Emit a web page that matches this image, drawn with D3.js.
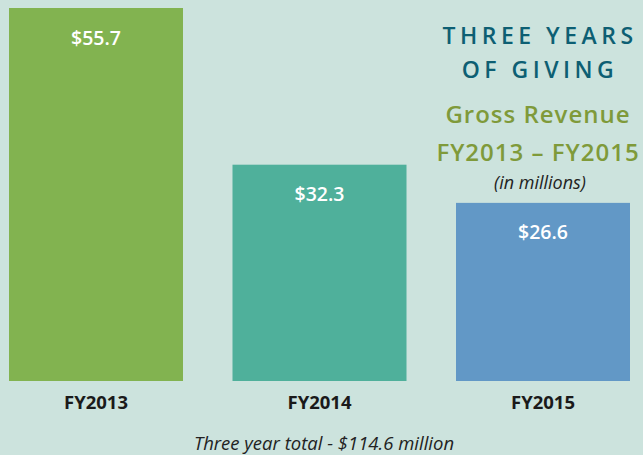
<!DOCTYPE html>
<html><head><meta charset="utf-8">
<script src="https://cdn.jsdelivr.net/npm/d3@7"></script>
<style>html,body{margin:0;padding:0;background:#cce3dd;} svg{display:block;}</style>
</head><body>
<script>
const categories = ["FY2013", "FY2014", "FY2015"];
const values = [55.7, 32.3, 26.6];
const valueLabels = ["$55.7", "$32.3", "$26.6"];
const colors = ["#82b350", "#4fb09b", "#6298c6"];
const titleLines = ["THREE YEARS", "OF GIVING"];
const subtitleLines = ["Gross Revenue", "FY2013 \u2013 FY2015"];
const unitNote = "(in millions)";
const footer = "Three year total - $114.6 million";

const W = 643, H = 455;
const F = "'Open Sans', sans-serif";
const svg = d3.select("body").append("svg").attr("width", W).attr("height", H);
svg.append("rect").attr("width", W).attr("height", H).attr("fill", "#cce3dd");

const x = d3.scaleBand().domain(categories).range([9, 630]).paddingInner(0.2215).paddingOuter(0);
const y = d3.scaleLinear().domain([0, 55.7]).range([381, 8]);

const data = categories.map((c, i) => ({c, v: values[i], l: valueLabels[i], col: colors[i]}));

svg.selectAll("rect.bar").data(data).enter().append("rect")
  .attr("class", "bar")
  .attr("x", d => x(d.c)).attr("width", x.bandwidth())
  .attr("y", d => y(d.v)).attr("height", d => y(0) - y(d.v))
  .attr("fill", d => d.col);

svg.selectAll("text.val").data(data).enter().append("text")
  .attr("x", d => x(d.c) + x.bandwidth() / 2)
  .attr("y", d => y(d.v) + 36.5)
  .attr("text-anchor", "middle")
  .attr("font-family", F).attr("font-weight", 600)
  .attr("font-size", 19.5).attr("fill", "#ffffff")
  .text(d => d.l);

const xAxis = d3.axisBottom(x).tickSize(0).tickPadding(0);
const ax = svg.append("g").attr("transform", "translate(0,409)").call(xAxis);
ax.select(".domain").remove();
ax.selectAll("text")
  .attr("font-family", F).attr("font-weight", "bold")
  .attr("font-size", 18.5).attr("fill", "#1a1a1a").attr("dy", "0");

const cx = 538;
svg.selectAll("text.title").data(titleLines).enter().append("text")
  .attr("x", cx + 2).attr("y", (d, i) => 44 + i * 34)
  .attr("text-anchor", "middle")
  .attr("font-family", F).attr("font-weight", 600)
  .attr("font-size", 23).attr("letter-spacing", 4.5).attr("fill", "#0d5f73")
  .text(d => d);

svg.selectAll("text.sub").data(subtitleLines).enter().append("text")
  .attr("x", cx).attr("y", (d, i) => 123 + i * 38)
  .attr("text-anchor", "middle")
  .attr("font-family", F).attr("font-weight", 600)
  .attr("font-size", 24).attr("letter-spacing", 1).attr("fill", "#7f9a3a")
  .text(d => d);

svg.append("text").attr("x", 540).attr("y", 189)
  .attr("text-anchor", "middle")
  .attr("font-family", F).attr("font-style", "italic")
  .attr("font-size", 18).attr("fill", "#222")
  .text(unitNote);

svg.append("text").attr("x", 324).attr("y", 450)
  .attr("text-anchor", "middle")
  .attr("font-family", F).attr("font-style", "italic")
  .attr("font-size", 18.5).attr("fill", "#222")
  .text(footer);
</script>
</body></html>
